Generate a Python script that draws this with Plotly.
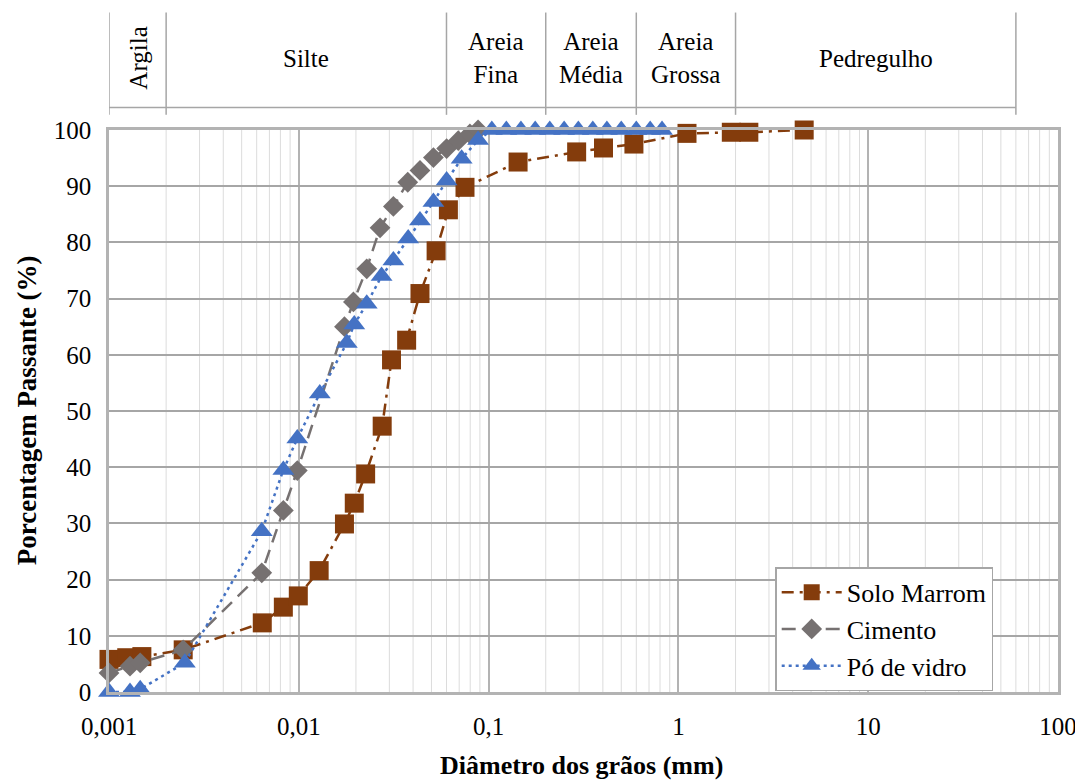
import math
import plotly.graph_objects as go

# ---- data ----
solo_d = [0.001, 0.00124, 0.00149, 0.00246, 0.00642, 0.00829, 0.00994, 0.0128, 0.0174,
          0.0196, 0.0225, 0.0275, 0.0308, 0.037, 0.0435, 0.0529, 0.0614, 0.0751, 0.143,
          0.291, 0.403, 0.583, 1.11, 1.9, 2.35, 4.6]
solo_p = [5.8, 6.1, 6.3, 7.5, 12.3, 15.1, 17.1, 21.6, 29.9,
          33.6, 38.8, 47.3, 59.1, 62.6, 70.9, 78.5, 85.8, 89.8, 94.3,
          96.1, 96.8, 97.5, 99.4, 99.6, 99.6, 100.0]

cim_d = [0.001, 0.00129, 0.00146, 0.00246, 0.00638, 0.00829, 0.00982, 0.0174, 0.0194,
         0.0228, 0.0268, 0.0315, 0.0375, 0.0435, 0.0512, 0.0601, 0.0692, 0.0797, 0.088]
cim_p = [3.4, 4.6, 5.2, 7.5, 21.2, 32.3, 39.4, 65.0, 69.4,
         75.3, 82.6, 86.4, 90.7, 92.8, 95.1, 96.7, 98.1, 99.3, 100.0]

vid_d = [0.001, 0.00129, 0.00146, 0.00251, 0.00638, 0.00829, 0.00982, 0.0129, 0.0179,
         0.0196, 0.0228, 0.0273, 0.0315, 0.0377, 0.0435, 0.0512, 0.0601, 0.0721, 0.088,
         0.104, 0.124, 0.148, 0.176, 0.21, 0.25, 0.297, 0.354, 0.42, 0.50, 0.60, 0.71, 0.82]
vid_p = [0.0, 0.0, 0.5, 5.2, 28.6, 39.5, 45.1, 53.1, 62.1,
         65.4, 69.1, 74.0, 76.8, 80.7, 83.9, 87.2, 91.0, 94.9, 98.2,
         100, 100, 100, 100, 100, 100, 100, 100, 100, 100, 100, 100, 100]

x_tickvals = [0.001, 0.01, 0.1, 1, 10, 100]
x_ticktext = ["0,001", "0,01", "0,1", "1", "10", "100"]
y_tickvals = [0, 10, 20, 30, 40, 50, 60, 70, 80, 90, 100]

# soil classification bands (ABNT)
band_limits = [0.001, 0.002, 0.06, 0.2, 0.6, 2, 60]
band_names = ["Argila", "Silte", "Areia<br>Fina", "Areia<br>Média", "Areia<br>Grossa", "Pedregulho"]

FONT = "Liberation Serif"
BROWN = "#843C0C"
GRAY = "#767171"
BLUE = "#4472C4"

fig = go.Figure()
fig.add_trace(go.Scatter(
    x=solo_d, y=solo_p, name="Solo Marrom", mode="lines+markers",
    line=dict(color=BROWN, width=2.5, dash="12px,6px,3px,6px"),
    marker=dict(symbol="square", size=19, color=BROWN), cliponaxis=False))
fig.add_trace(go.Scatter(
    x=cim_d, y=cim_p, name="Cimento", mode="lines+markers",
    line=dict(color=GRAY, width=2.5, dash="14px,8px"),
    marker=dict(symbol="diamond", size=16, color=GRAY), cliponaxis=False))
fig.add_trace(go.Scatter(
    x=vid_d, y=vid_p, name="Pó de vidro", mode="lines+markers",
    line=dict(color=BLUE, width=2.5, dash="3px,4px"),
    marker=dict(symbol="triangle-up", size=19, color=BLUE), cliponaxis=False))

shapes = []
# minor vertical gridlines (2..9 within each decade)
for dec in [0.001, 0.01, 0.1, 1, 10]:
    for k in range(2, 10):
        shapes.append(dict(type="line", xref="x", yref="paper", x0=dec * k, x1=dec * k,
                           y0=0, y1=1, layer="below", line=dict(color="#dcdcdc", width=1)))
# classification header
for b in band_limits:
    shapes.append(dict(type="line", xref="x", yref="paper", x0=b, x1=b,
                       y0=1.027, y1=1.209, line=dict(color="#a6a6a6", width=1.5)))
shapes.append(dict(type="line", xref="x", yref="paper", x0=band_limits[0], x1=band_limits[-1],
                   y0=1.040, y1=1.040, line=dict(color="#a6a6a6", width=1.5)))

annotations = []
for i, name in enumerate(band_names):
    lo, hi = band_limits[i], band_limits[i + 1]
    xm = math.log10((lo * hi) ** 0.5)
    annotations.append(dict(
        x=xm, y=1.128, xref="x", yref="paper",
        text=name, showarrow=False, textangle=-90 if name == "Argila" else 0,
        font=dict(family=FONT, size=25, color="#000000"),
        xanchor="center", yanchor="middle"))
annotations.append(dict(
    x=0.498, y=-0.130, xref="paper", yref="paper", showarrow=False,
    text="<b>Diâmetro dos grãos (mm)</b>", font=dict(family=FONT, size=26, color="#000000"),
    xanchor="center", yanchor="middle"))
annotations.append(dict(
    x=-0.087, y=0.502, xref="paper", yref="paper", showarrow=False, textangle=-90,
    text="<b>Porcentagem Passante (%)</b>", font=dict(family=FONT, size=27, color="#000000"),
    xanchor="center", yanchor="middle"))

# page body has an 8px margin: figure sized so the page is filled exactly
fig.update_layout(
    width=1075, height=772,
    margin=dict(l=101, r=25, t=122, b=88),
    paper_bgcolor="white", plot_bgcolor="white",
    font=dict(family=FONT, size=24, color="#000000"),
    showlegend=True,
    legend=dict(x=0.702, y=0.222, xanchor="left", yanchor="top",
                bgcolor="white", bordercolor="#a6a6a6", borderwidth=1.5,
                font=dict(family=FONT, size=26), itemwidth=60,
                tracegroupgap=0),
    shapes=shapes, annotations=annotations,
)
fig.update_xaxes(
    type="log", range=[-3, 2], automargin=False,
    tickvals=x_tickvals, ticktext=x_ticktext,
    ticks="outside", ticklen=10, tickcolor="rgba(0,0,0,0)",
    tickfont=dict(family=FONT, size=25),
    showgrid=True, gridcolor="#b3b3b3", gridwidth=1.5,
    showline=True, mirror=True, linecolor="#b3b3b3", linewidth=2.5,
    zeroline=False,
)
fig.update_yaxes(
    range=[0, 100], tickvals=y_tickvals, automargin=False,
    ticks="outside", ticklen=10, tickcolor="rgba(0,0,0,0)",
    tickfont=dict(family=FONT, size=25),
    showgrid=True, gridcolor="#a6a6a6", gridwidth=1.5,
    showline=True, mirror=True, linecolor="#b3b3b3", linewidth=2.5,
    zeroline=False,
)

fig.write_html("out.html")
